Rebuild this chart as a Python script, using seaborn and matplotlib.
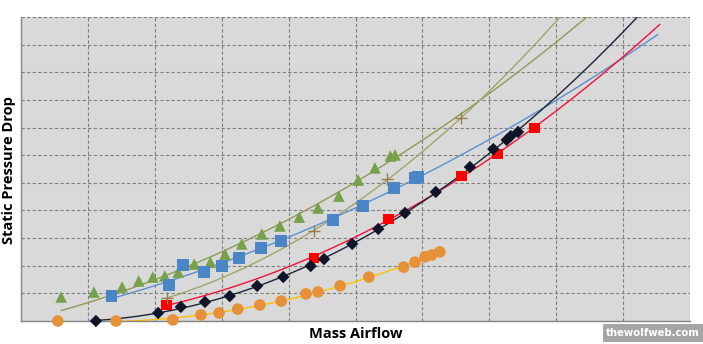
import numpy as np
import pandas as pd
import matplotlib
matplotlib.use("Agg")
import matplotlib.pyplot as plt
import seaborn as sns

# Measured points (mass airflow vs static pressure drop, arbitrary units)
tri_x = [0.60, 1.09, 1.51, 1.76, 1.97, 2.15, 2.35, 2.59, 2.83, 3.05, 3.30, 3.60,
         3.87, 4.16, 4.44, 4.75, 5.04, 5.29, 5.52, 5.59]
tri_y = [0.87, 1.05, 1.23, 1.45, 1.59, 1.63, 1.77, 2.06, 2.13, 2.42, 2.79, 3.15,
         3.44, 3.76, 4.09, 4.52, 5.10, 5.54, 5.97, 6.01]

plus_x = [2.18, 4.38, 5.47, 6.58]
plus_y = [0.83, 3.26, 5.14, 7.34]

blue_x = [1.35, 2.21, 2.42, 2.74, 3.00, 3.26, 3.59, 3.89, 4.66, 5.11, 5.58, 5.89, 5.93]
blue_y = [0.90, 1.30, 2.03, 1.77, 1.99, 2.28, 2.64, 2.89, 3.65, 4.16, 4.81, 5.17, 5.21]

red_x = [2.18, 4.38, 5.49, 6.58, 7.12, 7.67]
red_y = [0.58, 2.28, 3.69, 5.25, 6.04, 6.98]

dia_x = [1.12, 2.05, 2.39, 2.75, 3.12, 3.53, 3.92, 4.33, 4.53, 4.95, 5.34, 5.74,
         6.20, 6.71, 7.06, 7.26, 7.32, 7.43]
dia_y = [0.00, 0.29, 0.51, 0.69, 0.90, 1.27, 1.59, 1.99, 2.24, 2.79, 3.33, 3.91,
         4.67, 5.57, 6.22, 6.55, 6.69, 6.84]

orn_x = [0.55, 1.42, 2.27, 2.69, 2.96, 3.24, 3.57, 3.89, 4.26, 4.44, 4.77, 5.20,
         5.72, 5.89, 6.04, 6.14, 6.26]
orn_y = [0.00, 0.00, 0.04, 0.22, 0.29, 0.43, 0.58, 0.72, 0.98, 1.05, 1.27, 1.59,
         1.95, 2.13, 2.32, 2.39, 2.50]

sns.set_theme(style="white")
plt.rcParams["font.family"] = ["Open Sans", "DejaVu Sans"]

fig = plt.figure(figsize=(7.03, 3.44), dpi=100)
ax = fig.add_axes([21 / 703, 23 / 344, 669 / 703, 304 / 344])
ax.set_facecolor("#D9D9D9")
fig.patch.set_facecolor("white")

ax.set_xlim(0, 10)
ax.set_ylim(0, 11)
ax.set_xticks(np.arange(0, 11, 1))
ax.set_yticks(np.arange(0, 12, 1))
ax.grid(True, color="#7F7F7F", linestyle=(0, (3, 2)), linewidth=0.8)
ax.tick_params(length=0, labelbottom=False, labelleft=False)
for side in ("top", "right"):
    ax.spines[side].set_visible(False)
for side in ("left", "bottom"):
    ax.spines[side].set_color("#868686")
    ax.spines[side].set_linewidth(1.0)


def trend(xs, ys, x_end, color, through_origin=False, lw=1.0):
    """Second-order polynomial trendline, extended forward to x_end."""
    xs = np.asarray(xs)
    ys = np.asarray(ys)
    if through_origin:
        A = np.column_stack([xs ** 2, xs])
        c2, c1 = np.linalg.lstsq(A, ys, rcond=None)[0]
        coef = [c2, c1, 0.0]
    else:
        coef = np.polyfit(xs, ys, 2)
    xx = np.linspace(xs.min(), x_end, 200)
    df = pd.DataFrame({"x": xx, "y": np.polyval(coef, xx)})
    sns.lineplot(data=df, x="x", y="y", ax=ax, color=color, linewidth=lw,
                 estimator=None, sort=False, zorder=2)


trend(tri_x, tri_y, 9.0, "#8E9B55", through_origin=True)
trend(plus_x, plus_y, 9.0, "#A3A36A", through_origin=True)
trend(blue_x, blue_y, 9.52, "#5B8FD0", through_origin=True)
trend(red_x, red_y, 9.55, "#F0103A")
trend(dia_x, dia_y, 9.21, "#1A2438")
trend(orn_x, orn_y, max(orn_x), "#FFC000")

sns.scatterplot(x=tri_x, y=tri_y, ax=ax, marker="^", s=70, color="#77A04A",
                edgecolor="none", zorder=3)
sns.scatterplot(x=blue_x, y=blue_y, ax=ax, marker="s", s=70, color="#4A86C5",
                edgecolor="none", zorder=3)
sns.scatterplot(x=red_x, y=red_y, ax=ax, marker="s", s=60, color="#FF0000",
                edgecolor="none", zorder=3)
sns.scatterplot(x=dia_x, y=dia_y, ax=ax, marker="D", s=40, color="#0F1428",
                edgecolor="none", zorder=3, clip_on=False)
sns.scatterplot(x=orn_x, y=orn_y, ax=ax, marker="o", s=70, color="#E69138",
                edgecolor="none", zorder=3, clip_on=False)
sns.scatterplot(x=plus_x, y=plus_y, ax=ax, marker="+", s=70, color="#9A7A4E",
                linewidth=1.0, zorder=3)

ax.set_xlabel("")
ax.set_ylabel("")
fig.text(356 / 703, 1 - 334 / 344, "Mass Airflow", ha="center", va="center",
         fontsize=10.5, fontweight="bold", color="black")
fig.text(9 / 703, 1 - 170 / 344, "Static Pressure Drop", ha="center", va="center",
         rotation=90, fontsize=10.5, fontweight="bold", color="black")

fig.text(700 / 703, 1 - 333 / 344, "thewolfweb.com", ha="right", va="center",
         fontsize=7.3, fontweight="bold", color="white",
         family=["DejaVu Sans", "Open Sans"],
         bbox=dict(boxstyle="square,pad=0.35", facecolor="#A6A6A6", edgecolor="none"))

fig.savefig("out.png", dpi=100)
